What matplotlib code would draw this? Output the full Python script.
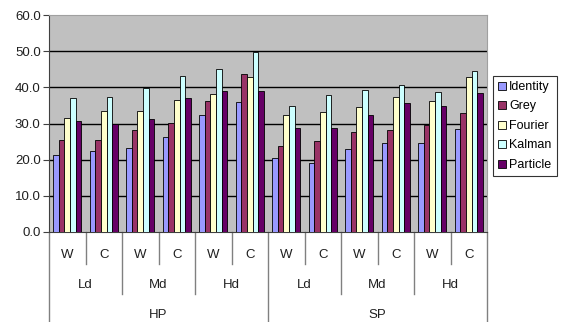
import matplotlib
matplotlib.use('Agg')
import matplotlib.pyplot as plt
import matplotlib.transforms as mtransforms
import numpy as np

plt.rcParams['font.family'] = ['Liberation Sans', 'DejaVu Sans']

# bottom-level category labels (12 groups)
sub_labels = ['W', 'C'] * 6
mid_labels = ['Ld', 'Md', 'Hd', 'Ld', 'Md', 'Hd']
top_labels = ['HP', 'SP']

series_names = ['Identity', 'Grey', 'Fourier', 'Kalman', 'Particle']
identity = [21.2, 22.3, 23.3, 26.4, 32.3, 35.9, 20.4, 19.2, 23.0, 24.6, 24.6, 28.4]
grey     = [25.3, 25.3, 28.1, 30.2, 36.2, 43.6, 23.7, 25.1, 27.6, 28.1, 29.5, 32.8]
fourier  = [31.6, 33.5, 33.5, 36.5, 38.2, 42.8, 32.3, 33.3, 34.7, 37.4, 36.1, 42.9]
kalman   = [37.1, 37.4, 39.7, 43.2, 45.1, 49.9, 34.8, 38.0, 39.4, 40.6, 38.8, 44.4]
particle = [30.8, 30.0, 31.2, 37.0, 39.1, 39.1, 28.8, 28.8, 32.3, 35.8, 34.8, 38.3]
colors = ['#9999FF', '#993366', '#FFFFCC', '#CCFFFF', '#660066']

fig = plt.figure(figsize=(5.67, 3.22), dpi=100)
ax = fig.add_axes([49 / 567, 1 - 232 / 322, 438 / 567, 217 / 322])
ax.set_facecolor('#C0C0C0')

x = np.arange(len(sub_labels))
w = 1 / 6.5
for k, (vals, name, c) in enumerate(zip([identity, grey, fourier, kalman, particle], series_names, colors)):
    ax.bar(x + (k - 2) * w, vals, width=w, color=c, edgecolor='black', linewidth=0.6,
           label=name, zorder=3)

ax.set_xlim(-0.5, len(x) - 0.5)
ax.set_ylim(0, 60)
ax.set_yticks(np.arange(0, 61, 10))
ax.set_yticklabels(['%.1f' % v for v in np.arange(0, 61, 10)], fontsize=9.5, color='#202020')
for v in range(10, 60, 10):
    ax.axhline(v, color='black', linewidth=1, zorder=1)
ax.tick_params(axis='y', direction='out', length=4, color='#404040', pad=2)
ax.set_xticks([])

for s in ['top', 'right']:
    ax.spines[s].set_color('#A0A0A0')
ax.spines['left'].set_color('#404040')
ax.spines['bottom'].set_color('#404040')

# hierarchical category axis
trans = mtransforms.blended_transform_factory(ax.transData, ax.transAxes)
line_kw = dict(color='#808080', linewidth=1, transform=trans, clip_on=False)
for i in range(len(x) + 1):
    xb = i - 0.5
    if i % 6 == 0:
        yb = -0.415
    elif i % 2 == 0:
        yb = -0.286
    else:
        yb = -0.147
    ax.plot([xb, xb], [0, yb], **line_kw)

txt_kw = dict(transform=trans, ha='center', va='center', fontsize=9.5, color='#202020')
for i, lab in enumerate(sub_labels):
    ax.text(i, -0.106, lab, **txt_kw)
for j, lab in enumerate(mid_labels):
    ax.text(2 * j + 0.5, -0.244, lab, **txt_kw)
for j, lab in enumerate(top_labels):
    ax.text(6 * j + 2.5, -0.382, lab, **txt_kw)

leg = ax.legend(loc='upper left', bbox_to_anchor=(493 / 567, 1 - 76 / 322), bbox_transform=fig.transFigure,
                borderaxespad=0, fancybox=False, frameon=True, fontsize=9, handlelength=0.6,
                handleheight=0.6, handletextpad=0.3, labelspacing=0.6, borderpad=0.4)
leg.get_frame().set_edgecolor('black')
leg.get_frame().set_linewidth(0.8)

fig.savefig('out.png', dpi=100)
